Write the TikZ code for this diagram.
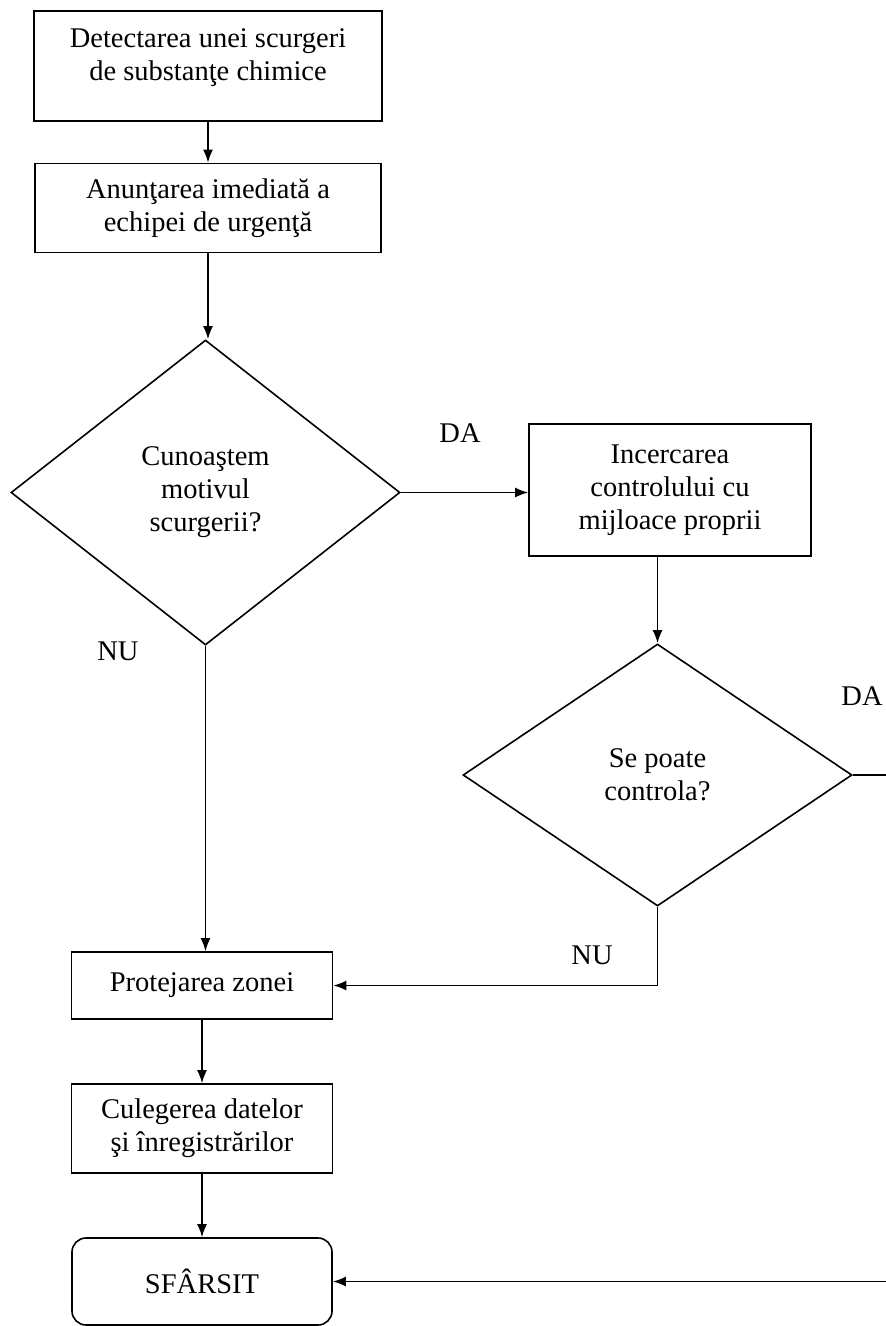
\documentclass[tikz,border=0pt]{standalone}
\usepackage{fontspec}
\setmainfont{Liberation Serif}
\usetikzlibrary{positioning,shapes.geometric,arrows.meta}
\newcommand{\flowfont}{\fontsize{28.5bp}{33bp}\selectfont}

\begin{document}
\begin{tikzpicture}[x=1bp,y=-1bp,line width=1.6bp,
    flowbox/.style={draw,rectangle,inner sep=0pt,align=center,font=\flowfont},
    flowtext/.style={inner sep=0pt,align=center,font=\flowfont},
    decision/.style={draw,diamond,inner sep=0pt,align=center,font=\flowfont},
    finish/.style={draw,rectangle,rounded corners=14bp,inner sep=0pt,font=\flowfont},
    answer/.style={inner sep=0pt,font=\flowfont},
    arr/.style={-{Latex[length=13bp,width=10bp]}}]
    \useasboundingbox (0,0) rectangle (885,1326);

    % casetele din coloana stanga
    \node[flowbox,minimum width=348bp,minimum height=110bp] (detect) at (208,66) {};
    \node[flowtext] (detecttxt) at (208,58) {Detectarea unei scurgeri\\de substanţe chimice};
    \node[flowbox,minimum width=346bp,minimum height=89bp] (alert) at (208,208) {Anunţarea imediată a\\echipei de urgenţă};
    \node[decision,minimum width=389bp,minimum height=305bp] (cause) at (205.5,492.5) {Cunoaştem\\motivul\\scurgerii?};
    \node[flowbox,minimum width=261bp,minimum height=67bp] (protect) at (202,985.5) {Protejarea zonei};
    \node[flowbox,minimum width=261bp,minimum height=89bp] (collect) at (202,1128.5) {Culegerea datelor\\şi înregistrărilor};
    \node[finish,minimum width=260bp,minimum height=87bp] (end) at (202,1281.5) {SFÂRSIT};

    % ramura din dreapta
    \node[flowbox,minimum width=282bp,minimum height=132bp] (attempt) at (670,490) {Incercarea\\controlului cu\\mijloace proprii};
    \node[decision,minimum width=389bp,minimum height=262bp] (ctrl) at (657.5,775) {Se poate\\controla?};

    % etichete DA / NU
    \node[answer] (yes1) at (460,433) {DA};
    \node[answer] (no1) at (118,651) {NU};
    \node[answer] (yes2) at (862,696) {DA};
    \node[answer] (no2) at (592,955) {NU};

    % capetele liniei iesite din imagine
    \coordinate (rtop) at (890,775);
    \coordinate (rbot) at (890,1281.5);

    % legaturi
    \draw[arr] (detect.south) -- (alert.north);
    \draw[arr] (alert.south) -- (alert.south |- cause.north);
    \draw[arr] (cause.east) -- (attempt.west |- cause.east);
    \draw[arr] (cause.south) -- (cause.south |- protect.north);
    \draw[arr] (attempt.south -| ctrl.north) -- (ctrl.north);
    \draw[arr] (ctrl.south) |- (protect.east);
    \draw[arr] (ctrl.east) -- (rtop) -- (rbot) -- (end.east);
    \draw[arr] (protect.south) -- (collect.north);
    \draw[arr] (collect.south) -- (end.north);
\end{tikzpicture}
\end{document}
